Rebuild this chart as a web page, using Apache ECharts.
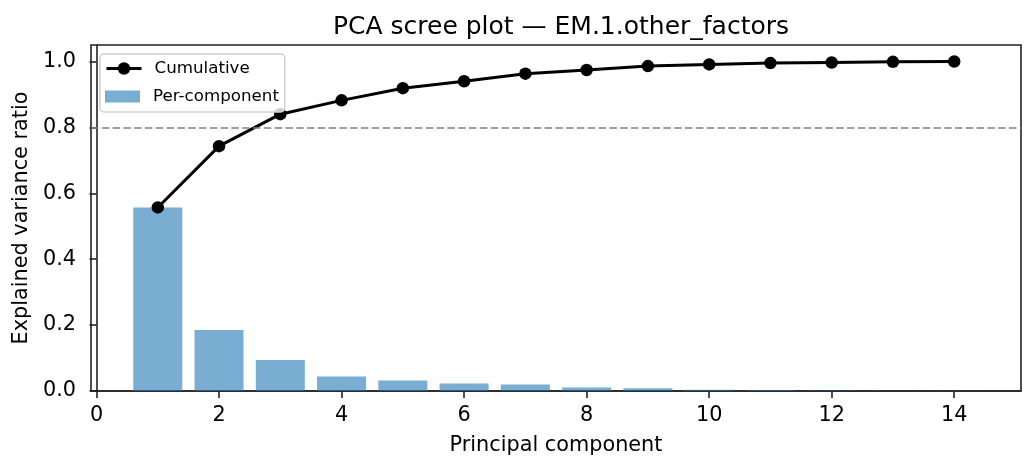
<!DOCTYPE html>
<html>
<head>
<meta charset="utf-8">
<script src="https://cdn.jsdelivr.net/npm/echarts@6/dist/echarts.min.js"></script>
<style>
    html, body { margin: 0; padding: 0; background: #fff; }
    #scree { width: 1036px; height: 470px; }
</style>
</head>
<body>
<div id="scree"></div>
<script>
// data
var components = [1, 2, 3, 4, 5, 6, 7, 8, 9, 10, 11, 12, 13, 14];
var perComponent = [0.557, 0.185, 0.094, 0.044, 0.032, 0.023, 0.020, 0.011, 0.008, 0.004, 0.002, 0.0015, 0.001, 0.0005];
var cumulative = [0.557, 0.743, 0.840, 0.882, 0.919, 0.940, 0.963, 0.974, 0.986, 0.991, 0.995, 0.997, 0.999, 1.000];
var xTicks = [0, 2, 4, 6, 8, 10, 12, 14];
var yTicks = [0, 0.2, 0.4, 0.6, 0.8, 1.0];
var threshold = 0.8;

var FONT = 'DejaVu Sans';
var xMin = -0.09, xMax = 15.09;
var gridLeft = 91, gridRight = 15, gridTop = 45, gridBottom = 79;

var dom = document.getElementById('scree');
var myChart = echarts.init(dom);

// bar width = 0.8 data units in pixels
var plotW = myChart.getWidth() - gridLeft - gridRight;
var barW = 0.8 * plotW / (xMax - xMin);

var barData = components.map(function (c, i) { return [c, perComponent[i]]; });
var lineData = components.map(function (c, i) { return [c, cumulative[i]]; });

var legendText = { fontFamily: FONT, fontSize: 16.7, color: '#000', padding: [0, 0, 0, 8] };

var option = {
    animation: false,
    textStyle: { fontFamily: FONT },
    title: {
        text: 'PCA scree plot — EM.1.other_factors',
        left: 556,
        textAlign: 'center',
        top: 10,
        textStyle: { fontFamily: FONT, fontSize: 25, fontWeight: 'normal', color: '#000' }
    },
    // two legends: the first draws the frame, the second sits inside it
    legend: [
        {
            orient: 'vertical',
            left: 100,
            top: 54,
            padding: [6, 35, 35, 5],
            itemWidth: 35,
            itemHeight: 15.6,
            backgroundColor: 'rgba(255,255,255,0.8)',
            borderColor: '#d0d0d0',
            borderWidth: 1.5,
            borderRadius: 4,
            lineStyle: { width: 3 },
            textStyle: legendText,
            data: ['Cumulative'],
            z: 10
        },
        {
            orient: 'vertical',
            left: 100,
            top: 88,
            padding: [0, 8, 0, 5],
            itemWidth: 35,
            itemHeight: 12,
            textStyle: legendText,
            data: [{ name: 'Per-component', icon: 'rect' }],
            z: 11
        }
    ],
    grid: {
        left: gridLeft, right: gridRight, top: gridTop, bottom: gridBottom,
        show: true, borderColor: '#222', borderWidth: 1.6, backgroundColor: 'transparent'
    },
    xAxis: {
        type: 'value',
        min: xMin,
        max: xMax,
        name: 'Principal component',
        nameLocation: 'middle',
        nameGap: 44,
        nameTextStyle: { fontFamily: FONT, fontSize: 20.8, color: '#000' },
        axisLine: { show: true, lineStyle: { color: '#222', width: 1.6 } },
        axisTick: { show: true, length: 7, customValues: xTicks, lineStyle: { color: '#222', width: 1.6 } },
        axisLabel: { customValues: xTicks, margin: 14, fontFamily: FONT, fontSize: 20.8, color: '#000' },
        splitLine: { show: false }
    },
    yAxis: {
        type: 'value',
        min: 0,
        max: 1.05,
        name: 'Explained variance ratio',
        nameLocation: 'middle',
        nameGap: 53,
        nameTextStyle: { fontFamily: FONT, fontSize: 20.8, color: '#000' },
        axisLine: { show: true, lineStyle: { color: '#222', width: 1.6 } },
        axisTick: { show: true, length: 7, customValues: yTicks, lineStyle: { color: '#222', width: 1.6 } },
        axisLabel: {
            customValues: yTicks, margin: 15, fontFamily: FONT, fontSize: 20.8, color: '#000',
            formatter: function (v) { return v.toFixed(1); }
        },
        splitLine: { show: false }
    },
    series: [
        {
            name: 'Per-component',
            type: 'bar',
            barWidth: barW,
            itemStyle: { color: '#1f77b4', opacity: 0.6 },
            data: barData,
            z: 2
        },
        {
            name: 'Cumulative',
            type: 'line',
            symbol: 'circle',
            symbolSize: 12.5,
            lineStyle: { color: '#000', width: 3 },
            itemStyle: { color: '#000' },
            data: lineData,
            z: 4,
            markLine: {
                silent: true,
                symbol: 'none',
                label: { show: false },
                lineStyle: { color: '#808080', width: 1.6, type: [7.5, 3.3] },
                data: [{ yAxis: threshold }]
            }
        }
    ]
};

if (option && typeof option === "object") {
    myChart.setOption(option, true);
}
window.onresize = function () {
    myChart.resize();
};
</script>
</body>
</html>
